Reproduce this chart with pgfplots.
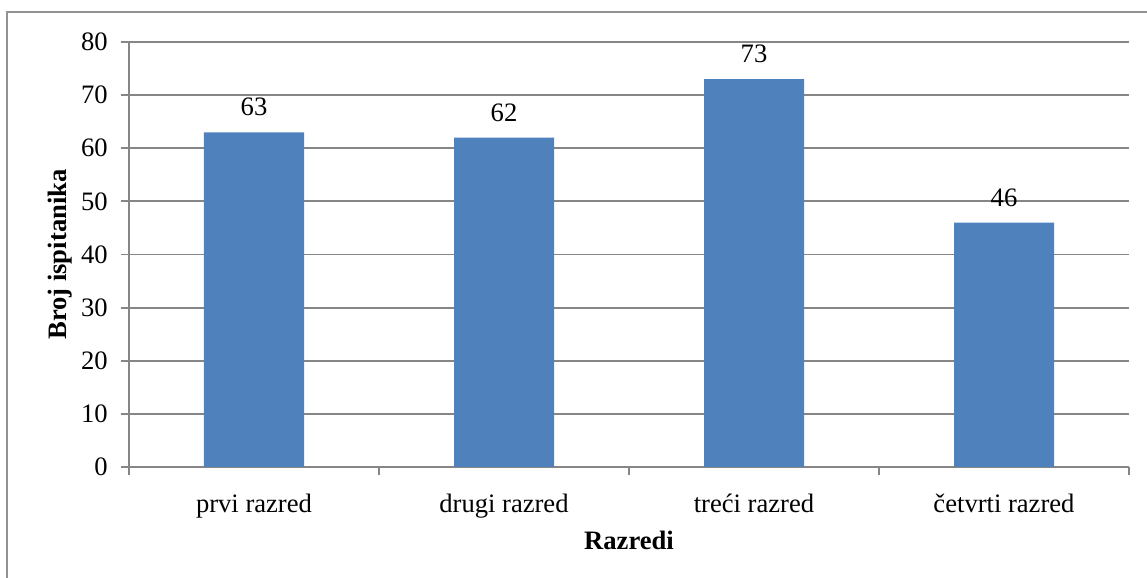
\documentclass[border=0pt]{standalone}
\usepackage{pgfplots}
\pgfplotsset{compat=1.18}
\usepackage{fontspec}
\setmainfont{Liberation Serif}
\definecolor{barblue}{HTML}{4F81BD}
\definecolor{gridgray}{HTML}{868686}
\begin{document}
\fontsize{13.3}{16}\selectfont
\begin{tikzpicture}
% page frame: 1147 x 578 px at 0.5pt per px
\path[use as bounding box] (0,0) rectangle (573.5pt,289pt);
\draw[gridgray!90,line width=0.9pt] (3.5pt,0) -- (3.5pt,283pt) -- (573.5pt,283pt);
\begin{axis}[
    at={(64.5pt,55.5pt)}, anchor=south west,
    scale only axis,
    width=500pt, height=212.5pt,
    xmin=-0.5, xmax=3.5,
    ymin=0, ymax=80,
    ytick={0,10,...,80},
    xtick={-0.5,0.5,1.5,2.5,3.5},
    xticklabels={},
    extra x ticks={0,1,2,3},
    extra x tick labels={prvi razred,drugi razred,treći razred,četvrti razred},
    extra x tick style={major tick length=0pt, tick style={draw=none}},
    axis x line*=bottom, axis y line*=left,
    axis line style={gridgray,line width=0.9pt,-},
    tick style={gridgray,line width=0.9pt},
    tick align=outside,
    major tick length=4pt,
    ymajorgrids,
    grid style={gridgray,line width=0.9pt},
    /pgf/number format/assume math mode=true,
    ticklabel style={font=\fontsize{13.3}{16}\selectfont},
    yticklabel style={xshift=-2pt},
    xticklabel style={yshift=-9pt},
    ylabel={\textbf{Broj ispitanika}},
    xlabel={\textbf{Razredi}},
    ylabel style={yshift=-4.5pt},
    xlabel style={yshift=7pt},
    label style={font=\fontsize{13.3}{16}\selectfont},
    ybar, bar width=50pt,
    nodes near coords,
    every node near coord/.append style={font=\fontsize{13.3}{16}\selectfont, yshift=3.5pt},
]
\addplot[fill=barblue, draw=none] coordinates {(0,63) (1,62) (2,73) (3,46)};
\end{axis}
\end{tikzpicture}
\end{document}
